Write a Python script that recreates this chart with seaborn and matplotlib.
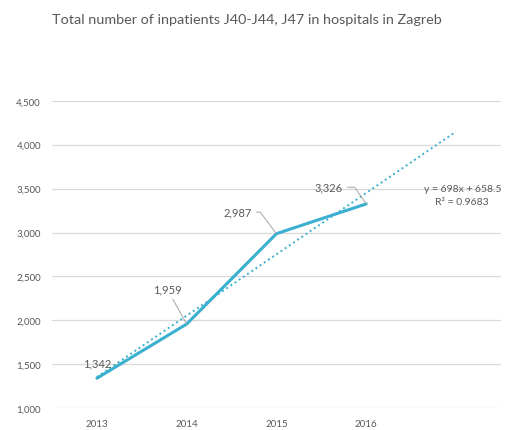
import numpy as np
import matplotlib
matplotlib.use('Agg')
import matplotlib.pyplot as plt
import seaborn as sns

# yearly totals of inpatients, Zagreb hospitals
years = ['2013', '2014', '2015', '2016']
patients = [1342, 1959, 2987, 3326]
# linear trend as reported (x = 1, 2, ...), one period forecast forward
trend_slope = 698
trend_icept = 658.5
trend_r2 = 0.9683
y_ticks = [1000, 1500, 2000, 2500, 3000, 3500, 4000, 4500]

line_clr = '#3AAFCF'
text_clr = '#595959'
grid_clr = '#D9D9D9'

sns.set_theme(style='white')
plt.rcParams['font.family'] = ['Lato', 'DejaVu Sans']

fig = plt.figure(figsize=(5.08, 4.31), dpi=100)
ax = fig.add_axes([0.1024, 0.0503, 0.8836, 0.7137])

idx = np.arange(len(years))
sns.lineplot(x=idx, y=patients, color=line_clr, linewidth=2.2, ax=ax)

# trendline covers the data and one forecast period
t_idx = np.arange(len(years) + 1)
t_vals = trend_slope * (t_idx + 1) + trend_icept
ax.plot(t_idx, t_vals, color=line_clr, linestyle=(0, (1, 1.6)), linewidth=1.4)

ax.set_xlim(-0.5, len(years) + 0.5)
ax.set_ylim(y_ticks[0], y_ticks[-1])
ax.set_yticks(y_ticks)
ax.set_yticklabels([f'{v:,}' for v in y_ticks])
ax.set_xticks(idx)
ax.set_xticklabels(years)
ax.tick_params(axis='both', length=0, labelsize=7, colors=text_clr, pad=8)
ax.yaxis.grid(True, color=grid_clr, linewidth=0.9)
ax.set_axisbelow(True)
for s in ax.spines.values():
    s.set_visible(False)

# data labels with leader lines, offsets in points
offsets = [(0, 11), (-14, 25), (-28, 15.5), (-27, 12)]
leaders = [None, 'arc3',
           'angle,angleA=0,angleB=127,rad=0',
           'angle,angleA=0,angleB=125,rad=0']
for i, (v, off, conn) in enumerate(zip(patients, offsets, leaders)):
    arrow = None
    if conn:
        arrow = dict(arrowstyle='-', color='#A6A6A6', lw=0.7,
                     shrinkA=1, shrinkB=0, connectionstyle=conn)
    ax.annotate(f'{v:,}', (i, v), xytext=off, textcoords='offset points',
                ha='center', va='center', fontsize=8, color=text_clr,
                arrowprops=arrow, annotation_clip=False)

ax.text(4.07, 3500, f'y = {trend_slope}x + {trend_icept}', ha='center', va='center',
        fontsize=7.5, color=text_clr)
ax.text(4.07, 3350, f'R² = {trend_r2}', ha='center', va='center',
        fontsize=7.5, color=text_clr)

fig.text(52 / 508, 1 - 20 / 431, 'Total number of inpatients J40-J44, J47 in hospitals in Zagreb',
         ha='left', va='center', fontsize=10.4, color=text_clr)

fig.savefig('out.png', dpi=100)
